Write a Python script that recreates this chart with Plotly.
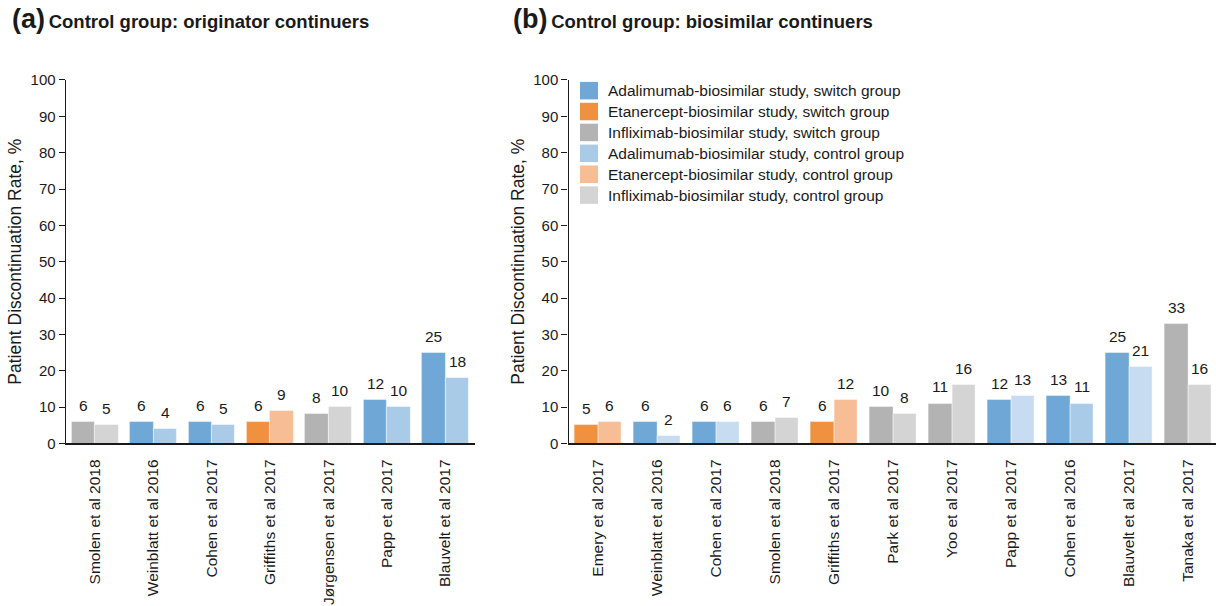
import numpy as np
import plotly.graph_objects as go

# ---- data -------------------------------------------------------------
studies_a = ["Smolen et al 2018", "Weinblatt et al 2016", "Cohen et al 2017",
             "Griffiths et al 2017", "Jørgensen et al 2017", "Papp et al 2017",
             "Blauvelt et al 2017"]
drug_a = ["IFX", "ADA", "ADA", "ETN", "IFX", "ADA", "ADA"]
switch_a = [6, 6, 6, 6, 8, 12, 25]
control_a = [5, 4, 5, 9, 10, 10, 18]

studies_b = ["Emery et al 2017", "Weinblatt et al 2016", "Cohen et al 2017",
             "Smolen et al 2018", "Griffiths et al 2017", "Park et al 2017",
             "Yoo et al 2017", "Papp et al 2017", "Cohen et al 2016",
             "Blauvelt et al 2017", "Tanaka et al 2017"]
drug_b = ["ETN", "ADA", "ADA", "IFX", "ETN", "IFX", "IFX", "ADA", "ADA",
          "ADA", "IFX"]
switch_b = [5, 6, 6, 6, 6, 10, 11, 12, 13, 25, 33]
control_b = [6, 2, 6, 7, 12, 8, 16, 13, 11, 21, 16]

y_ticks = list(range(0, 101, 10))

legend_labels = [
    ("ADA", "switch", "Adalimumab-biosimilar study, switch group"),
    ("ETN", "switch", "Etanercept-biosimilar study, switch group"),
    ("IFX", "switch", "Infliximab-biosimilar study, switch group"),
    ("ADA", "control", "Adalimumab-biosimilar study, control group"),
    ("ETN", "control", "Etanercept-biosimilar study, control group"),
    ("IFX", "control", "Infliximab-biosimilar study, control group"),
]

# ---- styling ----------------------------------------------------------
FONT = "Liberation Sans, Arial, sans-serif"
INK = "#1a1a1a"
COLORS = {
    ("ADA", "switch"): "#6fa7d6",
    ("ETN", "switch"): "#f0913f",
    ("IFX", "switch"): "#b3b3b3",
    ("ADA", "control"): "#aacbe8",
    ("ETN", "control"): "#f7bd95",
    ("IFX", "control"): "#d4d4d4",
}
# biosimilar-continuer panel uses a paler adalimumab control shade
ADA_CONTROL_PALE = "#c7dcf1"

W, H = 1216, 606
Y0_PX, Y100_PX = 447, 73
y_domain = [(H - Y0_PX) / H, (H - Y100_PX) / H]


def px_x(px):
    return px / W


def px_y(px):
    return (H - px) / H


fig = go.Figure()


def add_panel(xaxis, yaxis, studies, drugs, sw, ct, pale_ada=False):
    pos = np.arange(len(studies))
    sw_cols = [COLORS[(d, "switch")] for d in drugs]
    ct_cols = [COLORS[(d, "control")] for d in drugs]
    if pale_ada:
        ct_cols = [ADA_CONTROL_PALE if d == "ADA" else c
                   for d, c in zip(drugs, ct_cols)]
        # Cohen 2016 keeps the standard shade
        for i, s in enumerate(studies):
            if s == "Cohen et al 2016":
                ct_cols[i] = COLORS[("ADA", "control")]
    for vals, cols, off in ((sw, sw_cols, -0.4), (ct, ct_cols, 0.0)):
        fig.add_trace(go.Bar(
            x=pos, y=vals, width=0.4, offset=off,
            marker=dict(color=cols, line=dict(color="rgba(255,255,255,0.55)", width=0.8)),
            xaxis=xaxis, yaxis=yaxis, showlegend=False,
            hovertemplate="%{y}<extra></extra>",
        ))
        for p, v in zip(pos, vals):
            fig.add_annotation(
                x=p + off + 0.2, y=v, text=str(v), showarrow=False,
                xref=xaxis, yref=yaxis, yanchor="bottom", yshift=6,
                font=dict(family=FONT, size=15.5, color=INK),
            )
    return pos


pos_a = add_panel("x", "y", studies_a, drug_a, switch_a, control_a)
pos_b = add_panel("x2", "y2", studies_b, drug_b, switch_b, control_b, pale_ada=True)

axis_common = dict(showgrid=False, zeroline=False, showline=True,
                   linecolor=INK, fixedrange=True)
cat_font = dict(size=15.5, family=FONT, color=INK)
tick_font = dict(size=15, family=FONT, color=INK)
ytitle_font = dict(size=17.5, family=FONT, color=INK)

fig.update_layout(
    width=W, height=H,
    margin=dict(l=0, r=0, t=0, b=0),
    paper_bgcolor="white", plot_bgcolor="white",
    font=dict(family=FONT, color=INK),
    bargap=0,
    xaxis=dict(domain=[px_x(65.8), px_x(474.6)], range=[-0.5, len(studies_a) - 0.5],
               tickvals=list(pos_a), ticktext=studies_a, tickangle=-90,
               ticks="", ticklabelstandoff=8, linewidth=1.6,
               tickfont=cat_font, **axis_common),
    yaxis=dict(domain=y_domain, range=[0, 100], tickvals=y_ticks,
               ticks="outside", ticklen=6, tickwidth=1.2, tickcolor=INK,
               linewidth=1.4, tickfont=tick_font,
               title=dict(text="Patient Discontinuation Rate, %", standoff=4,
                          font=ytitle_font),
               anchor="x", **axis_common),
    xaxis2=dict(domain=[px_x(568.5), 1.0],
                range=[-0.5, -0.5 + len(studies_b) * (W - 568.5) / 649.0],
                tickvals=list(pos_b), ticktext=studies_b, tickangle=-90,
                ticks="", ticklabelstandoff=8, linewidth=1.6, anchor="y2",
                tickfont=cat_font, **axis_common),
    yaxis2=dict(domain=y_domain, range=[0, 100], tickvals=y_ticks,
                ticks="outside", ticklen=6, tickwidth=1.2, tickcolor=INK,
                linewidth=1.4, tickfont=tick_font,
                title=dict(text="Patient Discontinuation Rate, %", standoff=4,
                           font=ytitle_font),
                anchor="x2", **axis_common),
)

# panel headings
for x_px, letter, text in ((10, "(a)", "Control group: originator continuers"),
                           (511, "(b)", "Control group: biosimilar continuers")):
    fig.add_annotation(
        x=px_x(x_px), y=px_y(10), xref="paper", yref="paper",
        xanchor="left", yanchor="middle", showarrow=False,
        text=f"<b><span style='font-size:27px'>{letter}</span>"
             f"<span style='font-size:18.5px'>\u2009{text}</span></b>",
        font=dict(family=FONT, color=INK),
    )

# legend drawn as swatches + labels inside panel (b)
row_y = [84, 105.5, 127, 148.5, 170, 191.5]
for (drug, grp, label), yc in zip(legend_labels, row_y):
    fig.add_shape(type="rect", xref="paper", yref="paper",
                  x0=px_x(580), x1=px_x(598), y0=px_y(yc + 9), y1=px_y(yc - 9),
                  fillcolor=COLORS[(drug, grp)], line=dict(width=0))
    fig.add_annotation(x=px_x(606), y=px_y(yc), xref="paper", yref="paper",
                       xanchor="left", yanchor="middle", showarrow=False,
                       text=label, font=dict(family=FONT, size=15.5, color=INK))

fig.write_html("out.html")
